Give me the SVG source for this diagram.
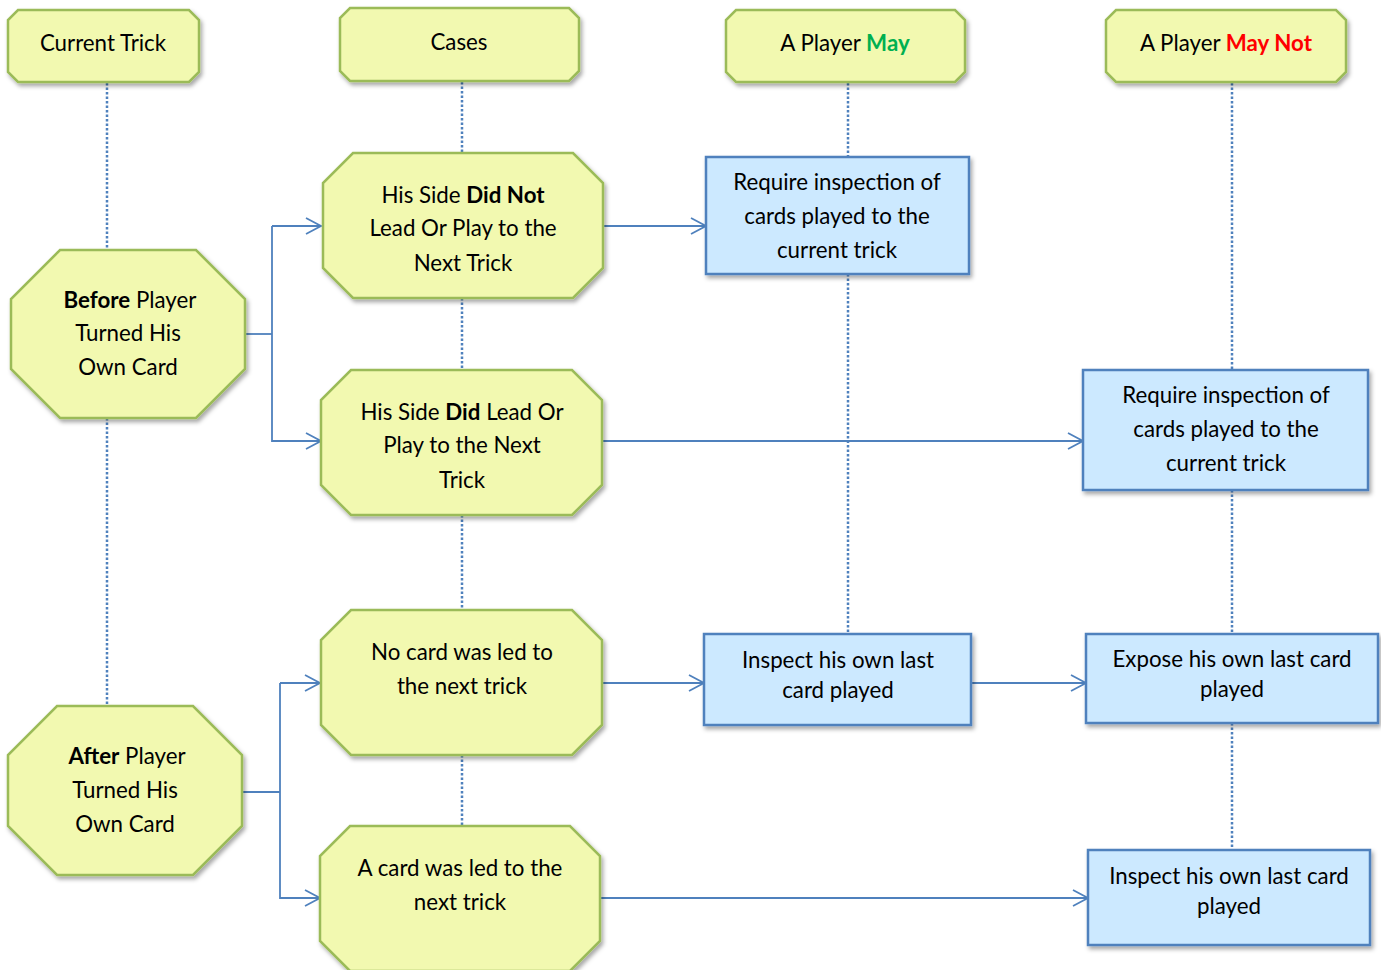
<svg xmlns="http://www.w3.org/2000/svg" width="1381" height="970" viewBox="0 0 1381 970">
<defs>
<filter id="sh" x="-10%" y="-10%" width="130%" height="130%">
<feDropShadow dx="2" dy="3" stdDeviation="2" flood-color="#000" flood-opacity="0.35"/>
</filter>
<marker id="arr" markerWidth="18" markerHeight="18" refX="16" refY="9" orient="auto" markerUnits="userSpaceOnUse">
<path d="M1,1 L16,9 L1,17" fill="none" stroke="#4F81BD" stroke-width="1.8"/>
</marker>
</defs>
<style>
.oct{fill:#F2F9B0;stroke:#9BBB59;stroke-width:2.5;filter:url(#sh)}
.box{fill:#CCE9FF;stroke:#4F81BD;stroke-width:2.5;filter:url(#sh)}
.dot{stroke:#4F81BD;stroke-width:2.5;stroke-dasharray:2.5,2;fill:none}
.con{stroke:#4F81BD;stroke-width:1.8;fill:none}
text{font-family:Lato,"Open Sans",sans-serif;font-size:22.3px;fill:#000;text-anchor:middle}
.b{font-weight:bold}
</style>
<g id="connectors">
<line class="dot" x1="107" y1="83" x2="107" y2="250"/>
<line class="dot" x1="107" y1="418" x2="107" y2="706"/>
<line class="dot" x1="462" y1="82" x2="462" y2="153"/>
<line class="dot" x1="462" y1="298" x2="462" y2="370"/>
<line class="dot" x1="462" y1="515" x2="462" y2="610"/>
<line class="dot" x1="462" y1="755" x2="462" y2="826"/>
<line class="dot" x1="848" y1="83" x2="848" y2="157"/>
<line class="dot" x1="848" y1="274" x2="848" y2="634"/>
<line class="dot" x1="1232" y1="83" x2="1232" y2="370"/>
<line class="dot" x1="1232" y1="490" x2="1232" y2="634"/>
<line class="dot" x1="1232" y1="723" x2="1232" y2="850"/>
<polyline class="con" points="245,334 272,334"/>
<polyline class="con" points="272,226 272,441 321,441" marker-end="url(#arr)"/>
<polyline class="con" points="272,226 321,226" marker-end="url(#arr)"/>
<polyline class="con" points="603,226 706,226" marker-end="url(#arr)"/>
<polyline class="con" points="603,441 1083,441" marker-end="url(#arr)"/>
<polyline class="con" points="242,792 280,792"/>
<polyline class="con" points="280,683 280,898 320,898" marker-end="url(#arr)"/>
<polyline class="con" points="280,683 320,683" marker-end="url(#arr)"/>
<polyline class="con" points="602,683 704,683" marker-end="url(#arr)"/>
<polyline class="con" points="971,683 1086,683" marker-end="url(#arr)"/>
<polyline class="con" points="600,898 1088,898" marker-end="url(#arr)"/>
</g>
<g id="h-current">
<polygon class="oct" points="18,10 189,10 199,20 199,72 189,82 18,82 8,72 8,20"/>
<text x="103" y="51">Current Trick</text>
</g>
<g id="h-cases">
<polygon class="oct" points="350,8 569,8 579,18 579,71 569,81 350,81 340,71 340,18"/>
<text x="459" y="50">Cases</text>
</g>
<g id="h-may">
<polygon class="oct" points="736,10 955,10 965,20 965,72 955,82 736,82 726,72 726,20"/>
<text x="845" y="51">A Player <tspan class="b" style="fill:#00B050">May</tspan></text>
</g>
<g id="h-maynot">
<polygon class="oct" points="1116,10 1336,10 1346,20 1346,72 1336,82 1116,82 1106,72 1106,20"/>
<text x="1226" y="51">A Player <tspan class="b" style="fill:#FF0000">May Not</tspan></text>
</g>
<g id="before">
<polygon class="oct" points="60,250 196,250 245,299 245,369 196,418 60,418 11,369 11,299"/>
<text x="130" y="308"><tspan class="b">Before</tspan> Player</text>
<text x="128" y="341">Turned His</text>
<text x="128" y="375">Own Card</text>
</g>
<g id="after">
<polygon class="oct" points="57,706 193,706 242,755 242,826 193,875 57,875 8,826 8,755"/>
<text x="127" y="764"><tspan class="b">After</tspan> Player</text>
<text x="125" y="798">Turned His</text>
<text x="125" y="832">Own Card</text>
</g>
<g id="didnot">
<polygon class="oct" points="353,153 573,153 603,183 603,268 573,298 353,298 323,268 323,183"/>
<text x="463" y="203">His Side <tspan class="b">Did Not</tspan></text>
<text x="463" y="236">Lead Or Play to the</text>
<text x="463" y="271">Next Trick</text>
</g>
<g id="didlead">
<polygon class="oct" points="351,370 572,370 602,400 602,485 572,515 351,515 321,485 321,400"/>
<text x="462" y="420">His Side <tspan class="b">Did</tspan> Lead Or</text>
<text x="462" y="453">Play to the Next</text>
<text x="462" y="488">Trick</text>
</g>
<g id="nocard">
<polygon class="oct" points="351,610 572,610 602,640 602,725 572,755 351,755 321,725 321,640"/>
<text x="462" y="660">No card was led to</text>
<text x="462" y="694">the next trick</text>
</g>
<g id="acard">
<polygon class="oct" points="350,826 570,826 600,856 600,941 570,971 350,971 320,941 320,856"/>
<text x="460" y="876">A card was led to the</text>
<text x="460" y="910">next trick</text>
</g>
<g id="req-may">
<rect class="box" x="706" y="157" width="263" height="117"/>
<text x="837" y="190">Require inspection of</text>
<text x="837" y="224">cards played to the</text>
<text x="837" y="258">current trick</text>
</g>
<g id="req-maynot">
<rect class="box" x="1083" y="370" width="285" height="120"/>
<text x="1226" y="403">Require inspection of</text>
<text x="1226" y="437">cards played to the</text>
<text x="1226" y="471">current trick</text>
</g>
<g id="insp-may">
<rect class="box" x="704" y="634" width="267" height="91"/>
<text x="838" y="668">Inspect his own last</text>
<text x="838" y="698">card played</text>
</g>
<g id="expose">
<rect class="box" x="1086" y="634" width="292" height="89"/>
<text x="1232" y="667">Expose his own last card</text>
<text x="1232" y="697">played</text>
</g>
<g id="insp-maynot">
<rect class="box" x="1088" y="850" width="282" height="95"/>
<text x="1229" y="884">Inspect his own last card</text>
<text x="1229" y="914">played</text>
</g>
</svg>
